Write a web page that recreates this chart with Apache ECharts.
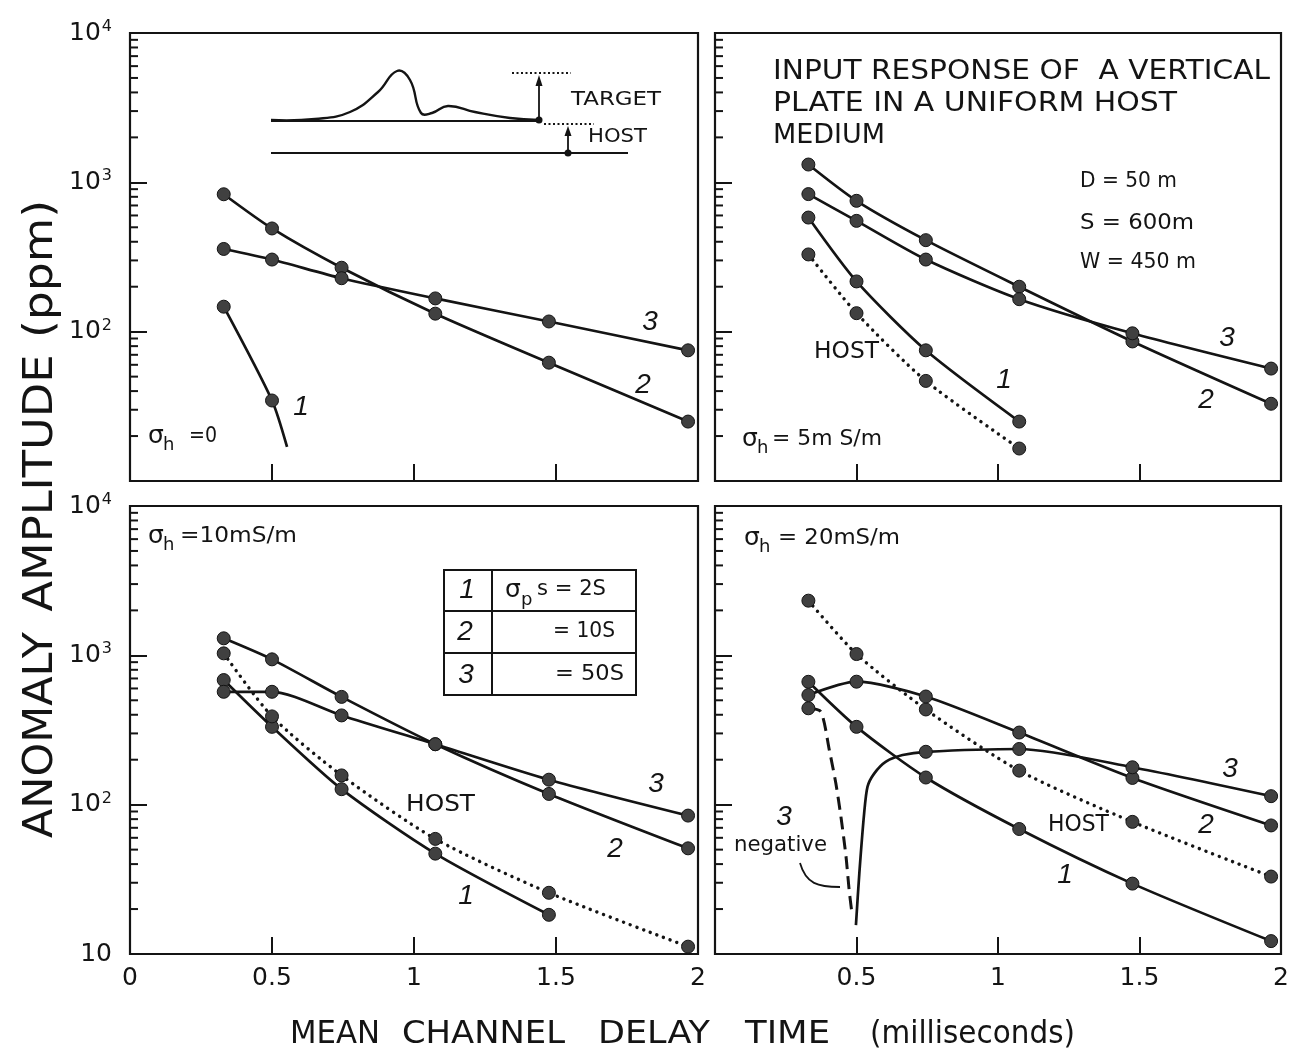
<!DOCTYPE html>
<html>
<head>
<meta charset="utf-8">
<script src="https://cdn.jsdelivr.net/npm/echarts@6/dist/echarts.min.js"></script>
<style>
html, body { margin: 0; padding: 0; background: #fff; }
#chart { width: 1296px; height: 1053px; }
</style>
</head>
<body>
<div id="chart"></div>
<script>
// Mean channel delay times (ms) of the six sampled channels
const channelTimes = [0.33, 0.5, 0.745, 1.075, 1.475, 1.965];

// Anomaly amplitudes (ppm) per channel; null = channel not plotted
// Host conductivity 0
const h0_plate1 = [147, 34.6, null, null, null, null];
const h0_plate1_tail = [[0.553, 16.9]];
const h0_plate2 = [832, 491, 268, 132, 62, 25];
const h0_plate3 = [358, 304, 228, 167, 117, 75];

// Host conductivity 5 mS/m
const h5_plate1 = [581, 217, 75, 25, null, null];
const h5_host = [329, 133, 46.8, 16.5, null, null];
const h5_plate2 = [1316, 752, 410, 200, 86, 32.9];
const h5_plate3 = [834, 552, 304, 165, 97.5, 56.6];

// Host conductivity 10 mS/m
const h10_plate1 = [683, 332, 127, 47, 18.3, null];
const h10_host = [1031, 390, 157, 59, 25.7, 11.2];
const h10_plate2 = [1300, 940, 527, 254, 118, 51];
const h10_plate3 = [570, 570, 396, 254, 147, 84.5];

// Host conductivity 20 mS/m
const h20_plate1 = [665, 332, 152, 68.7, 29.6, 12.2];
const h20_host = [2323, 1020, 434, 169, 76.7, 33];
const h20_plate2 = [542, 666, 530, 304, 151, 72.6];
const h20_plate3 = [null, null, 226, 236, 178, 114];
// plate 3 response after its sign change (positive branch, traced curve)
const h20_plate3_rise = [[0.498, 15.6], [0.51, 34.7], [0.527, 87.5], [0.539, 132], [0.563, 162], [0.604, 194], [0.663, 215]];
// plate 3 negative response magnitude before the sign change
const h20_plate3_neg = [442, null, null, null, null, null];
const h20_plate3_negTrace = [[0.374, 419], [0.404, 232], [0.427, 139], [0.445, 83], [0.463, 44.8], [0.474, 26.8], [0.484, 18.7]];

// Axis ticks
const xTickLabels = ['0', '0.5', '1', '1.5', '2'];
const logMinorTicks = [20, 30, 40, 50, 60, 70, 80, 90, 200, 300, 400, 500, 600, 700, 800, 900, 2000, 3000, 4000, 5000, 6000, 7000, 8000, 9000];

const FONT = 'DejaVu Sans';
const INK = '#141414';

const grids = [
  { left: 130, top: 33, width: 568, height: 448 },
  { left: 715, top: 33, width: 566, height: 448 },
  { left: 130, top: 506, width: 568, height: 448 },
  { left: 715, top: 506, width: 566, height: 448 }
];

const measureCtx = document.createElement('canvas').getContext('2d');
function fitScale(text, font, target) {
  measureCtx.font = font;
  const w = measureCtx.measureText(text).width;
  return w > 0 ? target / w : 1;
}

function buildData(values, trace) {
  const pts = [];
  values.forEach((v, k) => { if (v != null) pts.push({ value: [channelTimes[k], v] }); });
  (trace || []).forEach(p => pts.push({ value: p, symbol: 'none' }));
  pts.sort((a, b) => a.value[0] - b.value[0]);
  return pts;
}

function curve(gi, values, trace, kind) {
  const ls = { color: INK, width: 2.7 };
  if (kind === 'dotted') { ls.type = [0.1, 7]; ls.cap = 'round'; ls.width = 3.4; }
  if (kind === 'dashed') { ls.type = [13, 7]; ls.width = 3; }
  return {
    type: 'line', xAxisIndex: gi, yAxisIndex: gi,
    data: buildData(values, trace),
    smooth: 0.25,
    symbol: 'circle', symbolSize: 13,
    itemStyle: { color: '#404040', borderColor: INK, borderWidth: 1 },
    lineStyle: ls,
    z: 4
  };
}

function minorTickSeries(gi) {
  return {
    type: 'custom', xAxisIndex: gi, yAxisIndex: gi, silent: true, z: 3,
    data: logMinorTicks.map(v => [0, v]),
    renderItem: (params, api) => {
      const p = api.coord([0, api.value(1)]);
      return { type: 'line', shape: { x1: p[0], y1: p[1], x2: p[0] + 8, y2: p[1] },
               style: { stroke: INK, lineWidth: 2 } };
    }
  };
}

// text helpers for annotations
function word(text, x, y, size, target, opts) {
  opts = opts || {};
  const font = (opts.italic ? 'italic ' : '') + size + 'px ' + (opts.family || FONT);
  const sx = target ? fitScale(text, font, target) : 1;
  return {
    type: 'text', x: x, y: y, rotation: opts.rot || 0, scaleX: sx, z: 20,
    style: { text: text, font: font, fill: INK, align: opts.align || 'left', verticalAlign: 'middle' }
  };
}
function words(list, y, size) {
  return list.map(w => word(w[0], w[1], y, size, w[2] - w[1]));
}
function sigma(x, y, sub, rest, restLeft, restRight) {
  return [
    word('σ', x, y, 25),
    word(sub, x + 15, y + 9, 18),
    word(rest, restLeft, y, 22, restRight - restLeft)
  ];
}
function num(text, x, y) {
  return word(text, x, y, 28, null, { italic: true, family: 'Liberation Sans', align: 'center' });
}

const graphics = [];
// axis titles
[['ANOMALY', 735, 206], ['AMPLITUDE', 483, 257], ['(ppm)', 269, 138]].forEach(w => {
  graphics.push(word(w[0], 42, w[1], 40, w[2], { rot: Math.PI / 2, align: 'center' }));
});
graphics.push(...words([['MEAN', 290, 380], ['CHANNEL', 402, 565], ['DELAY', 598, 710], ['TIME', 745, 830], ['(milliseconds)', 870, 1075]], 1035, 32));

// heading in the upper right panel
graphics.push(word('INPUT RESPONSE OF  A VERTICAL', 773, 72, 26, 497));
graphics.push(word('PLATE IN A UNIFORM HOST', 773, 104, 26, 404));
graphics.push(word('MEDIUM', 773, 136, 26, 112));
graphics.push(word('D = 50 m', 1080, 182, 21, 97));
graphics.push(word('S = 600m', 1080, 224, 21, 114));
graphics.push(word('W = 450 m', 1080, 263, 21, 116));

// host conductivity labels
graphics.push(...sigma(148, 436, 'h', '=0', 189, 217));
graphics.push(...sigma(742, 439, 'h', '= 5m S/m', 772, 882));
graphics.push(...sigma(148, 536, 'h', '=10mS/m', 180, 297));
graphics.push(...sigma(744, 538, 'h', '= 20mS/m', 778, 900));

// HOST curve labels
graphics.push(word('HOST', 814, 352, 23, 65));
graphics.push(word('HOST', 406, 805, 23, 69));
graphics.push(word('HOST', 1048, 825, 23, 61));

// plate curve numbers
graphics.push(num('3', 650, 322), num('2', 643, 385), num('1', 301, 407));
graphics.push(num('3', 1227, 338), num('2', 1206, 400), num('1', 1004, 380));
graphics.push(num('3', 656, 784), num('2', 615, 849), num('1', 466, 896));
graphics.push(num('3', 1230, 769), num('2', 1206, 825), num('1', 1065, 875));
graphics.push(num('3', 784, 817));
graphics.push(word('negative', 734, 846, 21, 93));
graphics.push({ type: 'bezierCurve', z: 20, shape: { x1: 800, y1: 863, cpx1: 806, cpy1: 884, cpx2: 818, cpy2: 887, x2: 840, y2: 887 },
  style: { stroke: INK, lineWidth: 1.8, fill: null } });

// plate conductance table
graphics.push({ type: 'rect', z: 20, shape: { x: 444, y: 570, width: 192, height: 125 }, style: { fill: null, stroke: INK, lineWidth: 2 } });
graphics.push({ type: 'line', z: 20, shape: { x1: 444, y1: 611, x2: 636, y2: 611 }, style: { stroke: INK, lineWidth: 2 } });
graphics.push({ type: 'line', z: 20, shape: { x1: 444, y1: 653, x2: 636, y2: 653 }, style: { stroke: INK, lineWidth: 2 } });
graphics.push({ type: 'line', z: 20, shape: { x1: 492, y1: 570, x2: 492, y2: 695 }, style: { stroke: INK, lineWidth: 2 } });
graphics.push(num('1', 467, 590), num('2', 465, 632), num('3', 466, 675));
graphics.push(word('σ', 505, 590, 25), word('p', 521, 600, 18), word('s = 2S', 537, 590, 21, 69));
graphics.push(word('= 10S', 553, 632, 21, 62));
graphics.push(word('= 50S', 555, 675, 21, 69));

// response sketch in the upper left panel
graphics.push({ type: 'polyline', z: 20, shape: { smooth: 0.45, points: [[271, 120], [315, 119], [350, 112], [378, 92], [397, 71], [410, 80], [421, 113], [432, 113], [448, 106], [475, 112], [510, 118], [539, 120]] },
  style: { stroke: INK, lineWidth: 2.4, fill: null } });
graphics.push({ type: 'line', z: 20, shape: { x1: 271, y1: 121, x2: 539, y2: 121 }, style: { stroke: INK, lineWidth: 2 } });
graphics.push({ type: 'line', z: 20, shape: { x1: 271, y1: 153, x2: 628, y2: 153 }, style: { stroke: INK, lineWidth: 2 } });
graphics.push({ type: 'circle', z: 21, shape: { cx: 539, cy: 120, r: 3.5 }, style: { fill: INK } });
graphics.push({ type: 'circle', z: 21, shape: { cx: 568, cy: 153, r: 3.5 }, style: { fill: INK } });
graphics.push({ type: 'line', z: 20, shape: { x1: 539, y1: 119, x2: 539, y2: 82 }, style: { stroke: INK, lineWidth: 1.8 } });
graphics.push({ type: 'polygon', z: 20, shape: { points: [[535.5, 86], [542.5, 86], [539, 75]] }, style: { fill: INK } });
graphics.push({ type: 'line', z: 20, shape: { x1: 568, y1: 152, x2: 568, y2: 132 }, style: { stroke: INK, lineWidth: 1.8 } });
graphics.push({ type: 'polygon', z: 20, shape: { points: [[564.5, 136], [571.5, 136], [568, 126]] }, style: { fill: INK } });
graphics.push({ type: 'line', z: 20, shape: { x1: 512, y1: 73, x2: 571, y2: 73 }, style: { stroke: INK, lineWidth: 2, lineDash: [2, 2.5] } });
graphics.push({ type: 'line', z: 20, shape: { x1: 544, y1: 124, x2: 594, y2: 124 }, style: { stroke: INK, lineWidth: 2, lineDash: [2, 2.5] } });
graphics.push(word('TARGET', 571, 100, 20, 90));
graphics.push(word('HOST', 588, 137, 20, 59));

const xAxes = grids.map((g, i) => ({
  gridIndex: i, type: 'value', min: 0, max: 2, interval: 0.5,
  axisLine: { show: false }, splitLine: { show: false },
  axisTick: { show: true, inside: true, length: 17, lineStyle: { color: INK, width: 2 } },
  axisLabel: {
    show: i >= 2, margin: 12, color: INK, fontFamily: FONT, fontSize: 25,
    showMinLabel: true, showMaxLabel: true,
    formatter: v => {
      const k = Math.round(v / 0.5);
      if (i === 3 && k === 0) return '';
      return xTickLabels[k];
    }
  }
}));

const yAxes = grids.map((g, i) => ({
  gridIndex: i, type: 'log', logBase: 10, min: 10, max: 10000,
  axisLine: { show: false }, splitLine: { show: false },
  axisTick: { show: true, inside: true, length: 17, lineStyle: { color: INK, width: 2 } },
  axisLabel: {
    show: i % 2 === 0, margin: 18, color: INK,
    formatter: v => {
      const e = Math.round(Math.log10(v));
      if (e === 1) return i === 0 ? '' : '{b|10}';
      return '{b|10}{s|' + e + '}';
    },
    rich: {
      b: { fontFamily: FONT, fontSize: 25, color: INK },
      s: { fontFamily: FONT, fontSize: 16, color: INK, verticalAlign: 'top', padding: [0, 0, 12, 1] }
    }
  }
}));

const series = [
  minorTickSeries(0), minorTickSeries(1), minorTickSeries(2), minorTickSeries(3),
  curve(0, h0_plate1, h0_plate1_tail, 'solid'),
  curve(0, h0_plate2, null, 'solid'),
  curve(0, h0_plate3, null, 'solid'),
  curve(1, h5_plate1, null, 'solid'),
  curve(1, h5_host, null, 'dotted'),
  curve(1, h5_plate2, null, 'solid'),
  curve(1, h5_plate3, null, 'solid'),
  curve(2, h10_plate1, null, 'solid'),
  curve(2, h10_host, null, 'dotted'),
  curve(2, h10_plate2, null, 'solid'),
  curve(2, h10_plate3, null, 'solid'),
  curve(3, h20_plate1, null, 'solid'),
  curve(3, h20_host, null, 'dotted'),
  curve(3, h20_plate2, null, 'solid'),
  curve(3, h20_plate3, h20_plate3_rise, 'solid'),
  curve(3, h20_plate3_neg, h20_plate3_negTrace, 'dashed')
];

const chart = echarts.init(document.getElementById('chart'), null, { renderer: 'canvas' });
chart.setOption({
  animation: false,
  backgroundColor: '#fff',
  grid: grids.map(g => Object.assign({ show: true, borderColor: INK, borderWidth: 2.2, backgroundColor: 'transparent' }, g)),
  xAxis: xAxes,
  yAxis: yAxes,
  series: series,
  graphic: graphics
});
</script>
</body>
</html>
